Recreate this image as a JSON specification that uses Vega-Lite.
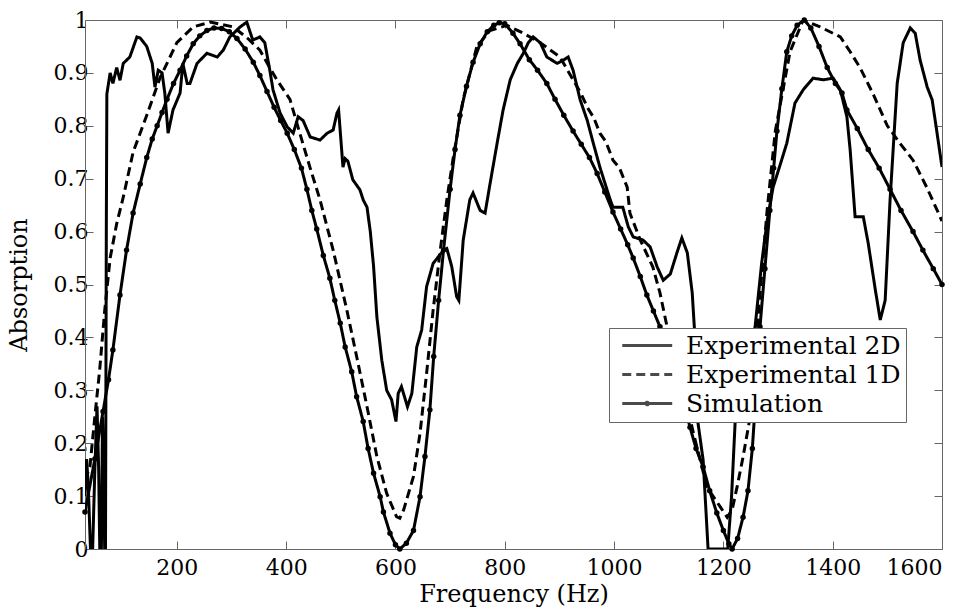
{
  "$schema": "https://vega.github.io/schema/vega-lite/v6.json",
  "width": 857,
  "height": 529,
  "autosize": {"type": "none"},
  "padding": {"left": 85, "top": 20, "right": 33, "bottom": 59},
  "background": "white",
  "config": {
    "view": {"stroke": null},
    "font": "DejaVu Serif",
    "axis": {
      "grid": false,
      "domainColor": "#666",
      "tickColor": "#666",
      "tickSize": -8,
      "labelFont": "DejaVu Serif",
      "labelFontSize": 22,
      "labelColor": "black",
      "titleFont": "DejaVu Serif",
      "titleFontSize": 24,
      "titleFontWeight": "normal",
      "titleColor": "black"
    }
  },
  "datasets": {
    "curves": [
      {"series": "Experimental 2D", "freq": 32, "absorption": 0.10},
      {"series": "Experimental 2D", "freq": 35, "absorption": 0.17},
      {"series": "Experimental 2D", "freq": 38, "absorption": 0.12},
      {"series": "Experimental 2D", "freq": 42, "absorption": 0.0},
      {"series": "Experimental 2D", "freq": 46, "absorption": 0.0},
      {"series": "Experimental 2D", "freq": 50, "absorption": 0.15},
      {"series": "Experimental 2D", "freq": 54, "absorption": 0.27},
      {"series": "Experimental 2D", "freq": 57, "absorption": 0.15},
      {"series": "Experimental 2D", "freq": 59, "absorption": 0.0},
      {"series": "Experimental 2D", "freq": 62, "absorption": 0.0},
      {"series": "Experimental 2D", "freq": 64, "absorption": 0.25},
      {"series": "Experimental 2D", "freq": 66, "absorption": 0.15},
      {"series": "Experimental 2D", "freq": 68, "absorption": 0.0},
      {"series": "Experimental 2D", "freq": 69.5, "absorption": 0.0},
      {"series": "Experimental 2D", "freq": 71, "absorption": 0.6},
      {"series": "Experimental 2D", "freq": 72, "absorption": 0.86},
      {"series": "Experimental 2D", "freq": 78, "absorption": 0.90},
      {"series": "Experimental 2D", "freq": 83, "absorption": 0.88},
      {"series": "Experimental 2D", "freq": 90, "absorption": 0.91},
      {"series": "Experimental 2D", "freq": 96, "absorption": 0.886},
      {"series": "Experimental 2D", "freq": 102, "absorption": 0.918},
      {"series": "Experimental 2D", "freq": 114, "absorption": 0.93},
      {"series": "Experimental 2D", "freq": 127, "absorption": 0.968},
      {"series": "Experimental 2D", "freq": 133, "absorption": 0.966},
      {"series": "Experimental 2D", "freq": 145, "absorption": 0.95},
      {"series": "Experimental 2D", "freq": 155, "absorption": 0.918},
      {"series": "Experimental 2D", "freq": 160, "absorption": 0.873},
      {"series": "Experimental 2D", "freq": 166, "absorption": 0.905},
      {"series": "Experimental 2D", "freq": 173, "absorption": 0.90},
      {"series": "Experimental 2D", "freq": 178, "absorption": 0.862},
      {"series": "Experimental 2D", "freq": 184, "absorption": 0.786},
      {"series": "Experimental 2D", "freq": 193, "absorption": 0.83},
      {"series": "Experimental 2D", "freq": 206, "absorption": 0.862},
      {"series": "Experimental 2D", "freq": 211, "absorption": 0.918},
      {"series": "Experimental 2D", "freq": 219, "absorption": 0.88},
      {"series": "Experimental 2D", "freq": 224, "absorption": 0.88},
      {"series": "Experimental 2D", "freq": 237, "absorption": 0.918},
      {"series": "Experimental 2D", "freq": 255, "absorption": 0.937},
      {"series": "Experimental 2D", "freq": 274, "absorption": 0.93},
      {"series": "Experimental 2D", "freq": 285, "absorption": 0.943},
      {"series": "Experimental 2D", "freq": 297, "absorption": 0.968},
      {"series": "Experimental 2D", "freq": 316, "absorption": 0.987},
      {"series": "Experimental 2D", "freq": 328, "absorption": 0.996},
      {"series": "Experimental 2D", "freq": 339, "absorption": 0.962},
      {"series": "Experimental 2D", "freq": 352, "absorption": 0.968},
      {"series": "Experimental 2D", "freq": 361, "absorption": 0.957},
      {"series": "Experimental 2D", "freq": 371, "absorption": 0.90},
      {"series": "Experimental 2D", "freq": 376, "absorption": 0.868},
      {"series": "Experimental 2D", "freq": 389, "absorption": 0.824},
      {"series": "Experimental 2D", "freq": 402, "absorption": 0.798},
      {"series": "Experimental 2D", "freq": 413, "absorption": 0.786},
      {"series": "Experimental 2D", "freq": 422, "absorption": 0.817},
      {"series": "Experimental 2D", "freq": 431, "absorption": 0.81},
      {"series": "Experimental 2D", "freq": 444, "absorption": 0.779},
      {"series": "Experimental 2D", "freq": 462, "absorption": 0.773},
      {"series": "Experimental 2D", "freq": 475, "absorption": 0.786},
      {"series": "Experimental 2D", "freq": 486, "absorption": 0.792},
      {"series": "Experimental 2D", "freq": 493, "absorption": 0.824},
      {"series": "Experimental 2D", "freq": 496, "absorption": 0.83},
      {"series": "Experimental 2D", "freq": 504, "absorption": 0.722},
      {"series": "Experimental 2D", "freq": 508, "absorption": 0.738},
      {"series": "Experimental 2D", "freq": 513, "absorption": 0.733},
      {"series": "Experimental 2D", "freq": 522, "absorption": 0.698},
      {"series": "Experimental 2D", "freq": 535, "absorption": 0.679},
      {"series": "Experimental 2D", "freq": 541, "absorption": 0.66},
      {"series": "Experimental 2D", "freq": 548, "absorption": 0.646},
      {"series": "Experimental 2D", "freq": 554, "absorption": 0.60},
      {"series": "Experimental 2D", "freq": 560, "absorption": 0.534},
      {"series": "Experimental 2D", "freq": 566, "absorption": 0.439},
      {"series": "Experimental 2D", "freq": 575, "absorption": 0.357},
      {"series": "Experimental 2D", "freq": 584, "absorption": 0.30},
      {"series": "Experimental 2D", "freq": 593, "absorption": 0.282},
      {"series": "Experimental 2D", "freq": 601, "absorption": 0.241},
      {"series": "Experimental 2D", "freq": 605, "absorption": 0.294},
      {"series": "Experimental 2D", "freq": 611, "absorption": 0.307},
      {"series": "Experimental 2D", "freq": 622, "absorption": 0.269},
      {"series": "Experimental 2D", "freq": 630, "absorption": 0.294},
      {"series": "Experimental 2D", "freq": 639, "absorption": 0.382},
      {"series": "Experimental 2D", "freq": 648, "absorption": 0.414},
      {"series": "Experimental 2D", "freq": 657, "absorption": 0.496},
      {"series": "Experimental 2D", "freq": 669, "absorption": 0.54},
      {"series": "Experimental 2D", "freq": 679, "absorption": 0.553},
      {"series": "Experimental 2D", "freq": 688, "absorption": 0.565},
      {"series": "Experimental 2D", "freq": 694, "absorption": 0.568},
      {"series": "Experimental 2D", "freq": 703, "absorption": 0.534},
      {"series": "Experimental 2D", "freq": 712, "absorption": 0.477},
      {"series": "Experimental 2D", "freq": 716, "absorption": 0.47},
      {"series": "Experimental 2D", "freq": 724, "absorption": 0.584},
      {"series": "Experimental 2D", "freq": 736, "absorption": 0.66},
      {"series": "Experimental 2D", "freq": 742, "absorption": 0.673},
      {"series": "Experimental 2D", "freq": 755, "absorption": 0.64},
      {"series": "Experimental 2D", "freq": 764, "absorption": 0.635},
      {"series": "Experimental 2D", "freq": 773, "absorption": 0.69},
      {"series": "Experimental 2D", "freq": 786, "absorption": 0.767},
      {"series": "Experimental 2D", "freq": 797, "absorption": 0.83},
      {"series": "Experimental 2D", "freq": 810, "absorption": 0.887},
      {"series": "Experimental 2D", "freq": 823, "absorption": 0.918},
      {"series": "Experimental 2D", "freq": 834, "absorption": 0.937},
      {"series": "Experimental 2D", "freq": 843, "absorption": 0.957},
      {"series": "Experimental 2D", "freq": 852, "absorption": 0.968},
      {"series": "Experimental 2D", "freq": 865, "absorption": 0.957},
      {"series": "Experimental 2D", "freq": 877, "absorption": 0.93},
      {"series": "Experimental 2D", "freq": 896, "absorption": 0.918},
      {"series": "Experimental 2D", "freq": 907, "absorption": 0.924},
      {"series": "Experimental 2D", "freq": 916, "absorption": 0.93},
      {"series": "Experimental 2D", "freq": 925, "absorption": 0.905},
      {"series": "Experimental 2D", "freq": 938, "absorption": 0.849},
      {"series": "Experimental 2D", "freq": 951, "absorption": 0.81},
      {"series": "Experimental 2D", "freq": 962, "absorption": 0.767},
      {"series": "Experimental 2D", "freq": 974, "absorption": 0.722},
      {"series": "Experimental 2D", "freq": 993, "absorption": 0.66},
      {"series": "Experimental 2D", "freq": 998, "absorption": 0.646},
      {"series": "Experimental 2D", "freq": 1016, "absorption": 0.646},
      {"series": "Experimental 2D", "freq": 1026, "absorption": 0.609},
      {"series": "Experimental 2D", "freq": 1035, "absorption": 0.59},
      {"series": "Experimental 2D", "freq": 1053, "absorption": 0.584},
      {"series": "Experimental 2D", "freq": 1066, "absorption": 0.571},
      {"series": "Experimental 2D", "freq": 1079, "absorption": 0.533},
      {"series": "Experimental 2D", "freq": 1090, "absorption": 0.508},
      {"series": "Experimental 2D", "freq": 1103, "absorption": 0.52},
      {"series": "Experimental 2D", "freq": 1115, "absorption": 0.56},
      {"series": "Experimental 2D", "freq": 1124, "absorption": 0.588},
      {"series": "Experimental 2D", "freq": 1134, "absorption": 0.56},
      {"series": "Experimental 2D", "freq": 1143, "absorption": 0.484},
      {"series": "Experimental 2D", "freq": 1148, "absorption": 0.40},
      {"series": "Experimental 2D", "freq": 1152, "absorption": 0.25},
      {"series": "Experimental 2D", "freq": 1163, "absorption": 0.168},
      {"series": "Experimental 2D", "freq": 1172, "absorption": 0.0},
      {"series": "Experimental 2D", "freq": 1208, "absorption": 0.0},
      {"series": "Experimental 2D", "freq": 1215, "absorption": 0.1},
      {"series": "Experimental 2D", "freq": 1222, "absorption": 0.25},
      {"series": "Experimental 2D", "freq": 1240, "absorption": 0.33},
      {"series": "Experimental 2D", "freq": 1258, "absorption": 0.42},
      {"series": "Experimental 2D", "freq": 1270, "absorption": 0.54},
      {"series": "Experimental 2D", "freq": 1280, "absorption": 0.62},
      {"series": "Experimental 2D", "freq": 1291, "absorption": 0.684},
      {"series": "Experimental 2D", "freq": 1305, "absorption": 0.73},
      {"series": "Experimental 2D", "freq": 1316, "absorption": 0.767},
      {"series": "Experimental 2D", "freq": 1331, "absorption": 0.843},
      {"series": "Experimental 2D", "freq": 1346, "absorption": 0.868},
      {"series": "Experimental 2D", "freq": 1364, "absorption": 0.89},
      {"series": "Experimental 2D", "freq": 1383, "absorption": 0.887},
      {"series": "Experimental 2D", "freq": 1401, "absorption": 0.89},
      {"series": "Experimental 2D", "freq": 1414, "absorption": 0.868},
      {"series": "Experimental 2D", "freq": 1426, "absorption": 0.817},
      {"series": "Experimental 2D", "freq": 1432, "absorption": 0.754},
      {"series": "Experimental 2D", "freq": 1441, "absorption": 0.628},
      {"series": "Experimental 2D", "freq": 1456, "absorption": 0.628},
      {"series": "Experimental 2D", "freq": 1465, "absorption": 0.578},
      {"series": "Experimental 2D", "freq": 1478, "absorption": 0.49},
      {"series": "Experimental 2D", "freq": 1487, "absorption": 0.433},
      {"series": "Experimental 2D", "freq": 1496, "absorption": 0.47},
      {"series": "Experimental 2D", "freq": 1505, "absorption": 0.66},
      {"series": "Experimental 2D", "freq": 1518, "absorption": 0.88},
      {"series": "Experimental 2D", "freq": 1529, "absorption": 0.957},
      {"series": "Experimental 2D", "freq": 1542, "absorption": 0.985},
      {"series": "Experimental 2D", "freq": 1551, "absorption": 0.975},
      {"series": "Experimental 2D", "freq": 1560, "absorption": 0.924},
      {"series": "Experimental 2D", "freq": 1573, "absorption": 0.873},
      {"series": "Experimental 2D", "freq": 1582, "absorption": 0.849},
      {"series": "Experimental 2D", "freq": 1591, "absorption": 0.786},
      {"series": "Experimental 2D", "freq": 1600, "absorption": 0.722},

      {"series": "Experimental 1D", "freq": 32, "absorption": 0.13},
      {"series": "Experimental 1D", "freq": 41, "absorption": 0.155},
      {"series": "Experimental 1D", "freq": 50, "absorption": 0.25},
      {"series": "Experimental 1D", "freq": 59, "absorption": 0.34},
      {"series": "Experimental 1D", "freq": 68, "absorption": 0.45},
      {"series": "Experimental 1D", "freq": 78, "absorption": 0.55},
      {"series": "Experimental 1D", "freq": 90, "absorption": 0.615},
      {"series": "Experimental 1D", "freq": 102, "absorption": 0.665},
      {"series": "Experimental 1D", "freq": 120, "absorption": 0.75},
      {"series": "Experimental 1D", "freq": 145, "absorption": 0.82},
      {"series": "Experimental 1D", "freq": 169, "absorption": 0.89},
      {"series": "Experimental 1D", "freq": 200, "absorption": 0.957},
      {"series": "Experimental 1D", "freq": 230, "absorption": 0.987},
      {"series": "Experimental 1D", "freq": 261, "absorption": 0.996},
      {"series": "Experimental 1D", "freq": 303, "absorption": 0.987},
      {"series": "Experimental 1D", "freq": 330, "absorption": 0.965},
      {"series": "Experimental 1D", "freq": 352, "absorption": 0.943},
      {"series": "Experimental 1D", "freq": 370, "absorption": 0.91},
      {"series": "Experimental 1D", "freq": 383, "absorption": 0.887},
      {"series": "Experimental 1D", "freq": 407, "absorption": 0.85},
      {"series": "Experimental 1D", "freq": 425, "absorption": 0.786},
      {"series": "Experimental 1D", "freq": 444, "absorption": 0.72},
      {"series": "Experimental 1D", "freq": 462, "absorption": 0.66},
      {"series": "Experimental 1D", "freq": 486, "absorption": 0.565},
      {"series": "Experimental 1D", "freq": 511, "absorption": 0.452},
      {"series": "Experimental 1D", "freq": 529, "absorption": 0.364},
      {"series": "Experimental 1D", "freq": 548, "absorption": 0.269},
      {"series": "Experimental 1D", "freq": 566, "absorption": 0.175},
      {"series": "Experimental 1D", "freq": 584, "absorption": 0.105},
      {"series": "Experimental 1D", "freq": 602, "absorption": 0.061},
      {"series": "Experimental 1D", "freq": 608, "absorption": 0.058},
      {"series": "Experimental 1D", "freq": 615, "absorption": 0.074},
      {"series": "Experimental 1D", "freq": 633, "absorption": 0.137},
      {"series": "Experimental 1D", "freq": 645, "absorption": 0.219},
      {"series": "Experimental 1D", "freq": 657, "absorption": 0.332},
      {"series": "Experimental 1D", "freq": 669, "absorption": 0.452},
      {"series": "Experimental 1D", "freq": 682, "absorption": 0.565},
      {"series": "Experimental 1D", "freq": 694, "absorption": 0.66},
      {"series": "Experimental 1D", "freq": 705, "absorption": 0.735},
      {"series": "Experimental 1D", "freq": 724, "absorption": 0.85},
      {"series": "Experimental 1D", "freq": 749, "absorption": 0.95},
      {"series": "Experimental 1D", "freq": 773, "absorption": 0.98},
      {"series": "Experimental 1D", "freq": 804, "absorption": 0.99},
      {"series": "Experimental 1D", "freq": 834, "absorption": 0.975},
      {"series": "Experimental 1D", "freq": 865, "absorption": 0.957},
      {"series": "Experimental 1D", "freq": 901, "absorption": 0.93},
      {"series": "Experimental 1D", "freq": 925, "absorption": 0.887},
      {"series": "Experimental 1D", "freq": 940, "absorption": 0.86},
      {"series": "Experimental 1D", "freq": 951, "absorption": 0.835},
      {"series": "Experimental 1D", "freq": 963, "absorption": 0.815},
      {"series": "Experimental 1D", "freq": 974, "absorption": 0.786},
      {"series": "Experimental 1D", "freq": 985, "absorption": 0.77},
      {"series": "Experimental 1D", "freq": 998, "absorption": 0.735},
      {"series": "Experimental 1D", "freq": 1010, "absorption": 0.72},
      {"series": "Experimental 1D", "freq": 1024, "absorption": 0.684},
      {"series": "Experimental 1D", "freq": 1029, "absorption": 0.635},
      {"series": "Experimental 1D", "freq": 1048, "absorption": 0.584},
      {"series": "Experimental 1D", "freq": 1071, "absorption": 0.533},
      {"series": "Experimental 1D", "freq": 1084, "absorption": 0.484},
      {"series": "Experimental 1D", "freq": 1097, "absorption": 0.42},
      {"series": "Experimental 1D", "freq": 1120, "absorption": 0.33},
      {"series": "Experimental 1D", "freq": 1145, "absorption": 0.22},
      {"series": "Experimental 1D", "freq": 1170, "absorption": 0.117},
      {"series": "Experimental 1D", "freq": 1194, "absorption": 0.08},
      {"series": "Experimental 1D", "freq": 1207, "absorption": 0.06},
      {"series": "Experimental 1D", "freq": 1216, "absorption": 0.074},
      {"series": "Experimental 1D", "freq": 1225, "absorption": 0.117},
      {"series": "Experimental 1D", "freq": 1236, "absorption": 0.174},
      {"series": "Experimental 1D", "freq": 1249, "absorption": 0.25},
      {"series": "Experimental 1D", "freq": 1262, "absorption": 0.42},
      {"series": "Experimental 1D", "freq": 1280, "absorption": 0.64},
      {"series": "Experimental 1D", "freq": 1295, "absorption": 0.79},
      {"series": "Experimental 1D", "freq": 1322, "absorption": 0.94},
      {"series": "Experimental 1D", "freq": 1346, "absorption": 1.0},
      {"series": "Experimental 1D", "freq": 1377, "absorption": 0.987},
      {"series": "Experimental 1D", "freq": 1414, "absorption": 0.968},
      {"series": "Experimental 1D", "freq": 1432, "absorption": 0.94},
      {"series": "Experimental 1D", "freq": 1450, "absorption": 0.91},
      {"series": "Experimental 1D", "freq": 1474, "absorption": 0.86},
      {"series": "Experimental 1D", "freq": 1500, "absorption": 0.80},
      {"series": "Experimental 1D", "freq": 1523, "absorption": 0.767},
      {"series": "Experimental 1D", "freq": 1547, "absorption": 0.735},
      {"series": "Experimental 1D", "freq": 1572, "absorption": 0.684},
      {"series": "Experimental 1D", "freq": 1600, "absorption": 0.62},

      {"series": "Simulation", "freq": 32, "absorption": 0.07},
      {"series": "Simulation", "freq": 50, "absorption": 0.17},
      {"series": "Simulation", "freq": 65, "absorption": 0.26},
      {"series": "Simulation", "freq": 75, "absorption": 0.32},
      {"series": "Simulation", "freq": 83, "absorption": 0.376},
      {"series": "Simulation", "freq": 96, "absorption": 0.48},
      {"series": "Simulation", "freq": 108, "absorption": 0.565},
      {"series": "Simulation", "freq": 120, "absorption": 0.635},
      {"series": "Simulation", "freq": 133, "absorption": 0.69},
      {"series": "Simulation", "freq": 145, "absorption": 0.74},
      {"series": "Simulation", "freq": 155, "absorption": 0.775},
      {"series": "Simulation", "freq": 164, "absorption": 0.80},
      {"series": "Simulation", "freq": 173, "absorption": 0.825},
      {"series": "Simulation", "freq": 182, "absorption": 0.85},
      {"series": "Simulation", "freq": 194, "absorption": 0.88},
      {"series": "Simulation", "freq": 206, "absorption": 0.905},
      {"series": "Simulation", "freq": 218, "absorption": 0.932},
      {"series": "Simulation", "freq": 230, "absorption": 0.955},
      {"series": "Simulation", "freq": 242, "absorption": 0.970},
      {"series": "Simulation", "freq": 255, "absorption": 0.980},
      {"series": "Simulation", "freq": 268, "absorption": 0.985},
      {"series": "Simulation", "freq": 282, "absorption": 0.984},
      {"series": "Simulation", "freq": 296, "absorption": 0.978},
      {"series": "Simulation", "freq": 310, "absorption": 0.965},
      {"series": "Simulation", "freq": 325, "absorption": 0.945},
      {"series": "Simulation", "freq": 340, "absorption": 0.92},
      {"series": "Simulation", "freq": 352, "absorption": 0.895},
      {"series": "Simulation", "freq": 365, "absorption": 0.865},
      {"series": "Simulation", "freq": 378, "absorption": 0.835},
      {"series": "Simulation", "freq": 390, "absorption": 0.81},
      {"series": "Simulation", "freq": 402, "absorption": 0.786},
      {"series": "Simulation", "freq": 415, "absorption": 0.755},
      {"series": "Simulation", "freq": 428, "absorption": 0.72},
      {"series": "Simulation", "freq": 438, "absorption": 0.68},
      {"series": "Simulation", "freq": 447, "absorption": 0.64},
      {"series": "Simulation", "freq": 456, "absorption": 0.605},
      {"series": "Simulation", "freq": 468, "absorption": 0.555},
      {"series": "Simulation", "freq": 480, "absorption": 0.512},
      {"series": "Simulation", "freq": 489, "absorption": 0.47},
      {"series": "Simulation", "freq": 499, "absorption": 0.427},
      {"series": "Simulation", "freq": 508, "absorption": 0.382},
      {"series": "Simulation", "freq": 520, "absorption": 0.335},
      {"series": "Simulation", "freq": 529, "absorption": 0.288},
      {"series": "Simulation", "freq": 541, "absorption": 0.241},
      {"series": "Simulation", "freq": 550, "absorption": 0.19},
      {"series": "Simulation", "freq": 560, "absorption": 0.143},
      {"series": "Simulation", "freq": 572, "absorption": 0.099},
      {"series": "Simulation", "freq": 578, "absorption": 0.07},
      {"series": "Simulation", "freq": 590, "absorption": 0.03},
      {"series": "Simulation", "freq": 600, "absorption": 0.008},
      {"series": "Simulation", "freq": 608, "absorption": 0.0},
      {"series": "Simulation", "freq": 620, "absorption": 0.011},
      {"series": "Simulation", "freq": 633, "absorption": 0.035},
      {"series": "Simulation", "freq": 645, "absorption": 0.099},
      {"series": "Simulation", "freq": 654, "absorption": 0.175},
      {"series": "Simulation", "freq": 663, "absorption": 0.263},
      {"series": "Simulation", "freq": 670, "absorption": 0.364},
      {"series": "Simulation", "freq": 679, "absorption": 0.47},
      {"series": "Simulation", "freq": 688, "absorption": 0.565},
      {"series": "Simulation", "freq": 700, "absorption": 0.68},
      {"series": "Simulation", "freq": 709, "absorption": 0.755},
      {"series": "Simulation", "freq": 718, "absorption": 0.82},
      {"series": "Simulation", "freq": 730, "absorption": 0.875},
      {"series": "Simulation", "freq": 742, "absorption": 0.92},
      {"series": "Simulation", "freq": 755, "absorption": 0.955},
      {"series": "Simulation", "freq": 768, "absorption": 0.978},
      {"series": "Simulation", "freq": 780, "absorption": 0.99},
      {"series": "Simulation", "freq": 790, "absorption": 0.995},
      {"series": "Simulation", "freq": 800, "absorption": 0.993},
      {"series": "Simulation", "freq": 815, "absorption": 0.975},
      {"series": "Simulation", "freq": 828, "absorption": 0.955},
      {"series": "Simulation", "freq": 845, "absorption": 0.925},
      {"series": "Simulation", "freq": 860, "absorption": 0.905},
      {"series": "Simulation", "freq": 877, "absorption": 0.88},
      {"series": "Simulation", "freq": 892, "absorption": 0.85},
      {"series": "Simulation", "freq": 908, "absorption": 0.82},
      {"series": "Simulation", "freq": 925, "absorption": 0.79},
      {"series": "Simulation", "freq": 940, "absorption": 0.765},
      {"series": "Simulation", "freq": 955, "absorption": 0.74},
      {"series": "Simulation", "freq": 969, "absorption": 0.71},
      {"series": "Simulation", "freq": 983, "absorption": 0.675},
      {"series": "Simulation", "freq": 998, "absorption": 0.637},
      {"series": "Simulation", "freq": 1012, "absorption": 0.605},
      {"series": "Simulation", "freq": 1025, "absorption": 0.575},
      {"series": "Simulation", "freq": 1035, "absorption": 0.55},
      {"series": "Simulation", "freq": 1048, "absorption": 0.515},
      {"series": "Simulation", "freq": 1060, "absorption": 0.48},
      {"series": "Simulation", "freq": 1072, "absorption": 0.45},
      {"series": "Simulation", "freq": 1084, "absorption": 0.42},
      {"series": "Simulation", "freq": 1097, "absorption": 0.38},
      {"series": "Simulation", "freq": 1110, "absorption": 0.34},
      {"series": "Simulation", "freq": 1125, "absorption": 0.285},
      {"series": "Simulation", "freq": 1139, "absorption": 0.23},
      {"series": "Simulation", "freq": 1150, "absorption": 0.19},
      {"series": "Simulation", "freq": 1163, "absorption": 0.155},
      {"series": "Simulation", "freq": 1175, "absorption": 0.11},
      {"series": "Simulation", "freq": 1188, "absorption": 0.068},
      {"series": "Simulation", "freq": 1200, "absorption": 0.035},
      {"series": "Simulation", "freq": 1210, "absorption": 0.01},
      {"series": "Simulation", "freq": 1216, "absorption": 0.0},
      {"series": "Simulation", "freq": 1226, "absorption": 0.02},
      {"series": "Simulation", "freq": 1236, "absorption": 0.06},
      {"series": "Simulation", "freq": 1245, "absorption": 0.11},
      {"series": "Simulation", "freq": 1253, "absorption": 0.19},
      {"series": "Simulation", "freq": 1260, "absorption": 0.3},
      {"series": "Simulation", "freq": 1267, "absorption": 0.42},
      {"series": "Simulation", "freq": 1276, "absorption": 0.53},
      {"series": "Simulation", "freq": 1285, "absorption": 0.64},
      {"series": "Simulation", "freq": 1292, "absorption": 0.72},
      {"series": "Simulation", "freq": 1298, "absorption": 0.79},
      {"series": "Simulation", "freq": 1307, "absorption": 0.87},
      {"series": "Simulation", "freq": 1316, "absorption": 0.94},
      {"series": "Simulation", "freq": 1325, "absorption": 0.97},
      {"series": "Simulation", "freq": 1335, "absorption": 0.99},
      {"series": "Simulation", "freq": 1348, "absorption": 1.0},
      {"series": "Simulation", "freq": 1360, "absorption": 0.985},
      {"series": "Simulation", "freq": 1375, "absorption": 0.95},
      {"series": "Simulation", "freq": 1390, "absorption": 0.91},
      {"series": "Simulation", "freq": 1405, "absorption": 0.88},
      {"series": "Simulation", "freq": 1417, "absorption": 0.862},
      {"series": "Simulation", "freq": 1426, "absorption": 0.83},
      {"series": "Simulation", "freq": 1445, "absorption": 0.795},
      {"series": "Simulation", "freq": 1465, "absorption": 0.755},
      {"series": "Simulation", "freq": 1485, "absorption": 0.72},
      {"series": "Simulation", "freq": 1505, "absorption": 0.68},
      {"series": "Simulation", "freq": 1525, "absorption": 0.64},
      {"series": "Simulation", "freq": 1547, "absorption": 0.60},
      {"series": "Simulation", "freq": 1565, "absorption": 0.565},
      {"series": "Simulation", "freq": 1584, "absorption": 0.53},
      {"series": "Simulation", "freq": 1600, "absorption": 0.50}
    ]
  },
  "data": {"name": "curves"},
  "layer": [
    {
      "mark": {"type": "line", "color": "black", "strokeWidth": 3, "clip": true},
      "encoding": {
        "x": {
          "field": "freq", "type": "quantitative",
          "scale": {"domain": [32, 1600], "nice": false, "zero": false},
          "axis": {"values": [200, 400, 600, 800, 1000, 1200, 1400, 1600], "format": "d", "title": "Frequency (Hz)", "labelPadding": 16, "titlePadding": 4}
        },
        "y": {
          "field": "absorption", "type": "quantitative",
          "scale": {"domain": [0, 1], "nice": false},
          "axis": {"values": [0, 0.1, 0.2, 0.3, 0.4, 0.5, 0.6, 0.7, 0.8, 0.9, 1], "format": ".1~f", "title": "Absorption", "labelPadding": 5, "titlePadding": 22}
        },
        "detail": {"field": "series"},
        "strokeDash": {
          "field": "series", "type": "nominal",
          "scale": {"domain": ["Experimental 2D", "Experimental 1D", "Simulation"], "range": [[1, 0], [9, 5], [1, 0]]},
          "legend": {
            "title": null, "orient": "none", "legendX": 524, "legendY": 308,
            "fillColor": "white", "strokeColor": "#666", "padding": 5,
            "labelFont": "DejaVu Serif", "labelFontSize": 25, "labelColor": "black", "labelLimit": 0,
            "symbolSize": 156, "symbolStrokeWidth": 3, "symbolStrokeColor": "black",
            "labelOffset": 47, "rowPadding": 3
          }
        }
      }
    },
    {
      "transform": [{"filter": "datum.series === 'Simulation'"}],
      "mark": {"type": "point", "filled": true, "color": "black", "size": 30, "opacity": 1},
      "encoding": {
        "x": {"field": "freq", "type": "quantitative", "axis": {"orient": "top", "labels": false, "title": null, "values": [200, 400, 600, 800, 1000, 1200, 1400, 1600]}},
        "y": {"field": "absorption", "type": "quantitative", "axis": {"orient": "right", "labels": false, "title": null, "values": [0, 0.1, 0.2, 0.3, 0.4, 0.5, 0.6, 0.7, 0.8, 0.9, 1]}}
      }
    },
    {
      "transform": [{"filter": "false"}],
      "mark": {"type": "point"},
      "encoding": {
        "x": {"field": "freq", "type": "quantitative", "axis": null},
        "y": {"field": "absorption", "type": "quantitative", "axis": null},
        "shape": {
          "field": "series", "type": "nominal",
          "scale": {"domain": ["Experimental 2D", "Experimental 1D", "Simulation"], "range": ["M-0.68,0H7.32", "M-0.68,0H7.32", "M-0.68,0H7.32M3.52,0A0.2,0.2,0,1,1,3.12,0A0.2,0.2,0,1,1,3.52,0"]},
          "legend": {
            "title": null, "orient": "none", "legendX": 524, "legendY": 308,
            "fillColor": "white", "strokeColor": "#666", "padding": 5,
            "labelFont": "DejaVu Serif", "labelFontSize": 25, "labelColor": "black", "labelLimit": 0,
            "symbolSize": 156, "symbolStrokeWidth": 3, "symbolStrokeColor": "black",
            "labelOffset": 47, "rowPadding": 3
          }
        }
      }
    }
  ],
  "resolve": {"axis": {"x": "independent", "y": "independent"}}
}
